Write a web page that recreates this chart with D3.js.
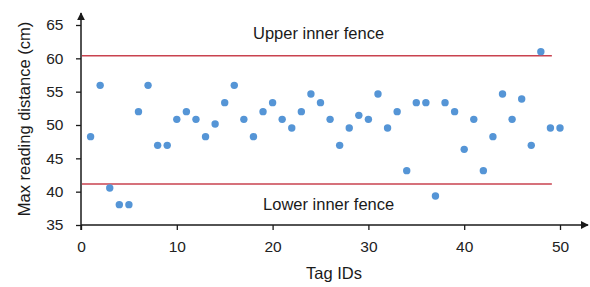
<!DOCTYPE html>
<html>
<head>
<meta charset="utf-8">
<script src="https://cdn.jsdelivr.net/npm/d3@7"></script>
<style>
  body { margin: 0; background: #fff; }
  svg { font-family: Arial, "Liberation Sans", sans-serif; }
</style>
</head>
<body>
<div id="chart"></div>
<script>
// tag ids and max reading distances (cm)
const tagIds = d3.range(1, 51);
const distances = [
  48.25, 55.95, 40.55, 38.05, 38.05, 52, 55.95, 46.95, 46.95, 50.85,
  52, 50.85, 48.25, 50.15, 53.35, 55.95, 50.85, 48.25, 52, 53.35,
  50.85, 49.55, 52, 54.65, 53.35, 50.85, 46.95, 49.55, 51.45, 50.85,
  54.65, 49.55, 52, 43.15, 53.35, 53.35, 39.35, 53.35, 52, 46.35,
  50.85, 43.15, 48.25, 54.65, 50.85, 53.9, 46.95, 61, 49.55, 49.55
];
const xTicks = [0, 10, 20, 30, 40, 50];
const yTicks = [35, 40, 45, 50, 55, 60, 65];

// fences: value, label, label center (tag id), label baseline value
const fences = [
  { value: 60.4, label: "Upper inner fence", at: 24.8, textValue: 62.85 },
  { value: 41.15, label: "Lower inner fence", at: 25.85, textValue: 37.2 }
];
const fenceEnd = 49.15;

const width = 590, height = 287;

const svg = d3.select("#chart")
  .append("svg")
  .attr("width", width)
  .attr("height", height);

const x = d3.scaleLinear().domain([0, 50]).range([81, 560]);
const y = d3.scaleLinear().domain([35, 65]).range([225, 25]);

const axisColor = "#1a1a1a";

// arrow heads
const defs = svg.append("defs");
defs.append("marker")
  .attr("id", "arrow")
  .attr("viewBox", "0 0 10 10")
  .attr("refX", 9)
  .attr("refY", 5)
  .attr("markerWidth", 8)
  .attr("markerHeight", 8)
  .attr("markerUnits", "userSpaceOnUse")
  .attr("orient", "auto")
  .append("path")
  .attr("d", "M0,0 L10,5 L0,10 Z")
  .attr("fill", axisColor);

// X axis
const gx = svg.append("g")
  .attr("transform", `translate(0,${y(35)})`)
  .call(d3.axisBottom(x).tickValues(xTicks).tickSize(5).tickSizeOuter(0).tickPadding(10.5));
gx.select(".domain").remove();
gx.selectAll(".tick line").attr("stroke", axisColor).attr("stroke-width", 1.3);
gx.selectAll(".tick text")
  .attr("font-size", 15.5)
  .attr("font-family", "Arial, 'Liberation Sans', sans-serif")
  .attr("fill", "#222");

// Y axis
const gy = svg.append("g")
  .attr("transform", `translate(${x(0)},0)`)
  .call(d3.axisLeft(y).tickValues(yTicks).tickSize(5).tickSizeOuter(0).tickPadding(12.5));
gy.select(".domain").remove();
gy.selectAll(".tick line").attr("stroke", axisColor).attr("stroke-width", 1.3);
gy.selectAll(".tick text")
  .attr("font-size", 15.5)
  .attr("font-family", "Arial, 'Liberation Sans', sans-serif")
  .attr("fill", "#222");

// axis lines with arrows
svg.append("line")
  .attr("x1", x(0)).attr("y1", y(35) + 5)
  .attr("x2", x(0)).attr("y2", 13)
  .attr("stroke", axisColor)
  .attr("stroke-width", 1.5)
  .attr("marker-end", "url(#arrow)");

svg.append("line")
  .attr("x1", x(0)).attr("y1", y(35))
  .attr("x2", 588).attr("y2", y(35))
  .attr("stroke", axisColor)
  .attr("stroke-width", 1.5)
  .attr("marker-end", "url(#arrow)");

// fence lines + labels
svg.selectAll(".fence")
  .data(fences)
  .join("line")
  .attr("class", "fence")
  .attr("x1", x(0) + 1)
  .attr("x2", x(fenceEnd))
  .attr("y1", (d) => y(d.value))
  .attr("y2", (d) => y(d.value))
  .attr("stroke", "#c9424f")
  .attr("stroke-width", 1.5);

svg.selectAll(".fence-label")
  .data(fences)
  .join("text")
  .attr("class", "fence-label")
  .attr("x", (d) => x(d.at))
  .attr("y", (d) => y(d.textValue))
  .attr("text-anchor", "middle")
  .attr("font-size", 16.5)
  .attr("fill", "#1a1a1a")
  .text((d) => d.label);

// points
svg.selectAll(".dot")
  .data(distances)
  .join("circle")
  .attr("class", "dot")
  .attr("cx", (d, i) => x(tagIds[i]))
  .attr("cy", (d) => y(d))
  .attr("r", 3.7)
  .attr("fill", "#5595d6");

// axis titles
svg.append("text")
  .attr("x", 334)
  .attr("y", 279)
  .attr("text-anchor", "middle")
  .attr("font-size", 16.5)
  .attr("fill", "#1a1a1a")
  .text("Tag IDs");

svg.append("text")
  .attr("transform", `translate(30,119) rotate(-90)`)
  .attr("text-anchor", "middle")
  .attr("font-size", 16.5)
  .attr("fill", "#1a1a1a")
  .text("Max reading distance (cm)");
</script>
</body>
</html>
